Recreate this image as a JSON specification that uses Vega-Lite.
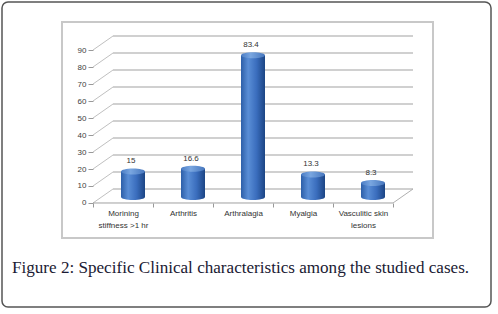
{
  "$schema": "https://vega.github.io/schema/vega-lite/v6.json",
  "width": 489,
  "height": 305,
  "autosize": {"type": "none"},
  "padding": {"left": 2, "top": 2, "right": 7, "bottom": 7},
  "background": "white",
  "config": {
    "view": {"stroke": "#555555", "strokeWidth": 1.5, "cornerRadius": 6},
    "font": "Liberation Sans"
  },
  "title": {
    "text": "Figure 2: Specific Clinical characteristics among the studied cases.",
    "orient": "bottom",
    "anchor": "start",
    "frame": "group",
    "offset": -34,
    "dx": 10,
    "baseline": "alphabetic",
    "font": "Liberation Serif",
    "fontSize": 17.1,
    "fontWeight": "normal",
    "color": "#1a1a33"
  },
  "resolve": {"axis": {"x": "independent", "y": "independent"}, "scale": {"x": "shared", "y": "shared"}},
  "datasets": {
    "bars": [
      {"cat": "Morining stiffness >1 hr", "v": 15},
      {"cat": "Arthritis", "v": 16.6},
      {"cat": "Arthralagia", "v": 83.4},
      {"cat": "Myalgia", "v": 13.3},
      {"cat": "Vasculitic skin lesions", "v": 8.3}
    ],
    "grid": [
      {"g": 0}, {"g": 10}, {"g": 20}, {"g": 30}, {"g": 40},
      {"g": 50}, {"g": 60}, {"g": 70}, {"g": 80}, {"g": 90}
    ],
    "one": [{"k": 1}]
  },
  "layer": [
    {
      "data": {"name": "bars"},
      "mark": {"type": "bar", "width": 24, "xOffset": 10, "yOffset": -6, "y2Offset": -6, "opacity": 0},
      "encoding": {
        "x": {
          "field": "cat", "type": "nominal",
          "scale": {"type": "band", "domain": ["Morining stiffness >1 hr", "Arthritis", "Arthralagia", "Myalgia", "Vasculitic skin lesions"], "range": [91, 391], "paddingInner": 0, "paddingOuter": 0},
          "axis": {
            "orient": "bottom", "offset": -104, "domain": false, "ticks": true, "tickBand": "extent",
            "tickSize": 4, "tickColor": "#999999", "labelPadding": 2, "labelFontSize": 8,
            "labelColor": "#333333", "labelFont": "Liberation Sans", "labelAngle": 0, "labelLimit": 200,
            "labelLineHeight": 12, "title": null,
            "labelExpr": "datum.label == 'Morining stiffness >1 hr' ? ['Morining', 'stiffness >1 hr'] : datum.label == 'Vasculitic skin lesions' ? ['Vasculitic skin', 'lesions'] : datum.label"
          }
        },
        "y": {
          "field": "v", "type": "quantitative",
          "scale": {"domain": [-61.18, 118.24], "nice": false, "zero": false},
          "axis": {
            "orient": "left", "offset": -91, "values": [0, 10, 20, 30, 40, 50, 60, 70, 80, 90],
            "domain": false, "grid": false, "tickSize": 5, "tickColor": "#999999", "labelPadding": 2,
            "labelFontSize": 8, "labelColor": "#404040", "title": null, "labelOverlap": false,
            "labelBound": false, "labelFlush": false
          }
        },
        "y2": {"datum": 0}
      }
    },
    {
      "data": {"name": "one"},
      "mark": {"type": "rect", "fillOpacity": 0, "stroke": "#c8c8c8", "strokeWidth": 2, "xOffset": -61, "x2Offset": 70},
      "encoding": {
        "x": {"datum": "Morining stiffness >1 hr", "type": "nominal", "axis": null},
        "x2": {"datum": "Vasculitic skin lesions"},
        "y": {"datum": 106.5, "type": "quantitative", "axis": null},
        "y2": {"datum": -20.6}
      }
    },
    {
      "data": {"name": "grid"},
      "mark": {"type": "rule", "stroke": "#c0c0c0", "strokeWidth": 1.5, "xOffset": -10, "x2Offset": 50, "yOffset": -14},
      "encoding": {
        "x": {"datum": "Morining stiffness >1 hr", "type": "nominal", "axis": null},
        "x2": {"datum": "Vasculitic skin lesions"},
        "y": {"field": "g", "type": "quantitative", "axis": null}
      }
    },
    {
      "data": {"name": "grid"},
      "mark": {"type": "rule", "stroke": "#c0c0c0", "strokeWidth": 1, "xOffset": -30, "x2Offset": -10, "y2Offset": -14},
      "encoding": {
        "x": {"datum": "Morining stiffness >1 hr", "type": "nominal", "axis": null},
        "x2": {"datum": "Morining stiffness >1 hr"},
        "y": {"field": "g", "type": "quantitative", "axis": null},
        "y2": {"field": "g"}
      }
    },
    {
      "data": {"name": "one"},
      "mark": {"type": "rule", "stroke": "#b0b0b0", "strokeWidth": 1, "xOffset": 30, "x2Offset": 50, "y2Offset": -14},
      "encoding": {
        "x": {"datum": "Vasculitic skin lesions", "type": "nominal", "axis": null},
        "x2": {"datum": "Vasculitic skin lesions"},
        "y": {"datum": 0, "type": "quantitative", "axis": null},
        "y2": {"datum": 0}
      }
    },
    {
      "data": {"name": "one"},
      "mark": {"type": "rule", "stroke": "#a0a0a0", "strokeWidth": 1, "xOffset": -30, "x2Offset": 30},
      "encoding": {
        "x": {"datum": "Morining stiffness >1 hr", "type": "nominal", "axis": null},
        "x2": {"datum": "Vasculitic skin lesions"},
        "y": {"datum": 0, "type": "quantitative", "axis": null}
      }
    },
    {
      "data": {"name": "bars"},
      "mark": {
        "type": "point", "filled": true, "opacity": 1, "size": 576, "xOffset": 10, "yOffset": -6,
        "shape": "M -1 0 A 1 0.25 0 1 0 1 0 A 1 0.25 0 1 0 -1 0 Z",
        "color": {"gradient": "linear", "x1": 0, "x2": 1, "y1": 0, "y2": 0,
          "stops": [{"offset": 0, "color": "#2d5fa8"}, {"offset": 0.3, "color": "#5a8ed6"}, {"offset": 0.65, "color": "#3a6dbd"}, {"offset": 1, "color": "#1c4584"}]}
      },
      "encoding": {
        "x": {"field": "cat", "type": "nominal", "axis": null},
        "y": {"datum": 0, "type": "quantitative", "axis": null}
      }
    },
    {
      "data": {"name": "bars"},
      "mark": {
        "type": "bar", "width": 24, "xOffset": 10, "yOffset": -6, "y2Offset": -6,
        "color": {"gradient": "linear", "x1": 0, "x2": 1, "y1": 0, "y2": 0,
          "stops": [{"offset": 0, "color": "#2d5fa8"}, {"offset": 0.3, "color": "#5a8ed6"}, {"offset": 0.65, "color": "#3a6dbd"}, {"offset": 1, "color": "#1c4584"}]}
      },
      "encoding": {
        "x": {"field": "cat", "type": "nominal", "axis": null},
        "y": {"field": "v", "type": "quantitative", "axis": null},
        "y2": {"datum": 0}
      }
    },
    {
      "data": {"name": "bars"},
      "mark": {
        "type": "point", "filled": true, "opacity": 1, "size": 576, "xOffset": 10, "yOffset": -6,
        "shape": "M -1 0 A 1 0.25 0 1 0 1 0 A 1 0.25 0 1 0 -1 0 Z",
        "color": {"gradient": "linear", "x1": 0, "x2": 1, "y1": 0, "y2": 0,
          "stops": [{"offset": 0, "color": "#4a7cc4"}, {"offset": 0.4, "color": "#79a6e0"}, {"offset": 1, "color": "#4676bd"}]}
      },
      "encoding": {
        "x": {"field": "cat", "type": "nominal", "axis": null},
        "y": {"field": "v", "type": "quantitative", "axis": null}
      }
    },
    {
      "data": {"name": "bars"},
      "mark": {"type": "text", "fontSize": 8, "color": "#333333", "xOffset": 8, "yOffset": -16, "baseline": "middle", "font": "Liberation Sans"},
      "encoding": {
        "x": {"field": "cat", "type": "nominal", "axis": null},
        "y": {"field": "v", "type": "quantitative", "axis": null},
        "text": {"field": "v", "type": "quantitative"}
      }
    }
  ]
}
